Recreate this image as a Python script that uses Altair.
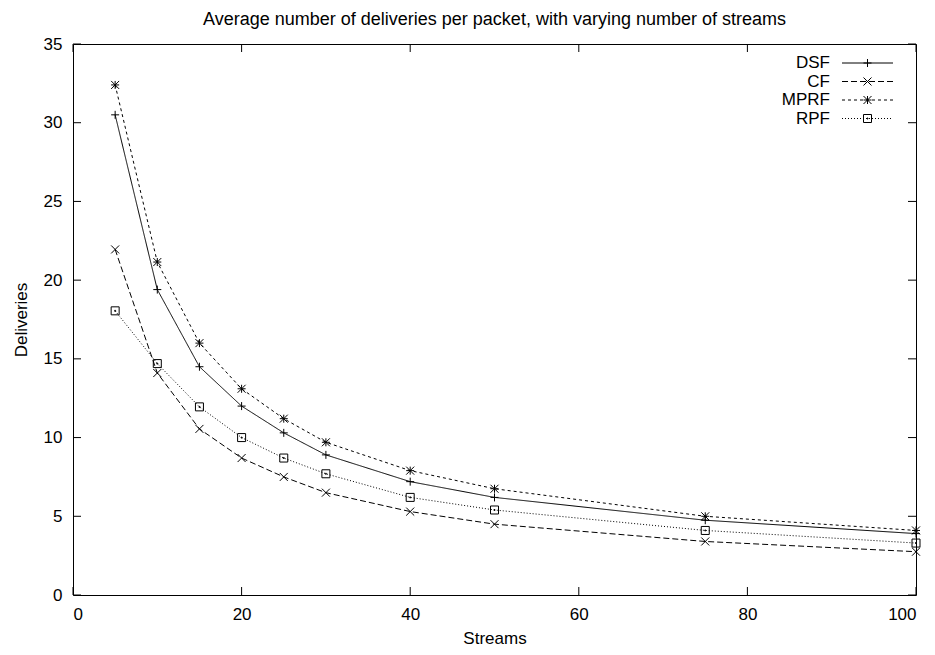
import altair as alt
import pandas as pd

# ---- data ----
streams = [5, 10, 15, 20, 25, 30, 40, 50, 75, 100]
dsf = [30.5, 19.4, 14.5, 12.0, 10.3, 8.9, 7.2, 6.2, 4.75, 3.9]
cf = [21.95, 14.1, 10.55, 8.7, 7.5, 6.5, 5.3, 4.5, 3.4, 2.75]
mprf = [32.4, 21.15, 16.0, 13.1, 11.2, 9.7, 7.9, 6.75, 5.0, 4.1]
rpf = [18.05, 14.7, 11.95, 10.0, 8.7, 7.7, 6.2, 5.4, 4.1, 3.3]

series_names = ["DSF", "CF", "MPRF", "RPF"]
series_values = [dsf, cf, mprf, rpf]
x_ticks = [0, 20, 40, 60, 80, 100]
y_ticks = [0, 5, 10, 15, 20, 25, 30, 35]

TITLE = "Average number of deliveries per packet, with varying number of streams"
FONT = "Liberation Sans"
FS = 17

# styles
dashes = [[1, 0], [6, 3], [3, 3], [1, 2]]
plus = "M-1,0H1M0,-1V1"
xmark = "M-1,-1L1,1M-1,1L1,-1"
star = "M-1,0H1M0,-1V1M-1,-1L1,1M-1,1L1,-1"
box = "M-1,-1H1V1H-1ZM-0.12,-0.12H0.12V0.12H-0.12Z"
shapes = [plus, xmark, star, box]

W, H = 843, 551

rows = []
for name, vals in zip(series_names, series_values):
    for s, v in zip(streams, vals):
        rows.append({"series": name, "Streams": s, "Deliveries": v})
df = pd.DataFrame(rows)

xscale = alt.Scale(domain=[0, 100], nice=False, zero=False)
yscale = alt.Scale(domain=[0, 35], nice=False, zero=False)

X = alt.X("Streams:Q", scale=xscale,
          axis=alt.Axis(values=x_ticks, title="Streams", titlePadding=8,
                        labelPadding=11, ticks=False, domain=False, grid=False))
Y = alt.Y("Deliveries:Q", scale=yscale,
          axis=alt.Axis(values=y_ticks, title="Deliveries", titlePadding=13,
                        labelPadding=11, ticks=False, domain=False, grid=False))

lines = alt.Chart(df).mark_line(color="black", strokeWidth=1).encode(
    x=X, y=Y,
    strokeDash=alt.StrokeDash("series:N", scale=alt.Scale(domain=series_names, range=dashes), legend=None),
    detail="series:N",
)
points = alt.Chart(df).mark_point(filled=False, color="black", strokeWidth=1, size=64, opacity=1).encode(
    x=X, y=Y,
    shape=alt.Shape("series:N", scale=alt.Scale(domain=series_names, range=shapes), legend=None),
)

ytdf = pd.DataFrame({"Deliveries": y_ticks})
xtdf = pd.DataFrame({"Streams": x_ticks})
TL = 8
yt_left = alt.Chart(ytdf).mark_rule(color="black", strokeWidth=1).encode(
    y=alt.Y("Deliveries:Q", scale=yscale), x=alt.value(0), x2=alt.value(TL))
yt_right = alt.Chart(ytdf).mark_rule(color="black", strokeWidth=1).encode(
    y=alt.Y("Deliveries:Q", scale=yscale), x=alt.value(W - TL), x2=alt.value(W))
xt_bot = alt.Chart(xtdf).mark_rule(color="black", strokeWidth=1).encode(
    x=alt.X("Streams:Q", scale=xscale), y=alt.value(H - TL), y2=alt.value(H))
xt_top = alt.Chart(xtdf).mark_rule(color="black", strokeWidth=1).encode(
    x=alt.X("Streams:Q", scale=xscale), y=alt.value(0), y2=alt.value(TL))

# chart title as a text mark (centered over the plot)
title_layer = alt.Chart(pd.DataFrame({"t": [TITLE]})).mark_text(
    align="center", baseline="alphabetic", font=FONT, fontSize=18, color="black").encode(
    x=alt.value(W / 2), y=alt.value(-19), text="t:N")

# manual gnuplot-style key
key_layers = []
key_text_x = 757
key_line_x1, key_line_x2 = 769, 820
key_row0, key_step = 19, 18.5
for i, name in enumerate(series_names):
    ry = key_row0 + i * key_step
    one = pd.DataFrame({"label": [name]})
    key_layers.append(alt.Chart(one).mark_text(align="right", baseline="middle", font=FONT,
                                               fontSize=FS, color="black").encode(
        x=alt.value(key_text_x), y=alt.value(ry), text="label:N"))
    key_layers.append(alt.Chart(one).mark_rule(color="black", strokeWidth=1, strokeDash=dashes[i]).encode(
        x=alt.value(key_line_x1), x2=alt.value(key_line_x2), y=alt.value(ry)))
    key_layers.append(alt.Chart(one).mark_point(shape=shapes[i], size=64, filled=False, color="black",
                                                strokeWidth=1, opacity=1).encode(
        x=alt.value((key_line_x1 + key_line_x2) / 2), y=alt.value(ry)))

chart = alt.layer(lines, points, yt_left, yt_right, xt_bot, xt_top, title_layer, *key_layers).properties(
    width=W, height=H,
    autosize=alt.AutoSizeParams(type="none"),
    padding={"left": 73, "top": 44, "right": 19, "bottom": 60},
    background="white",
).configure_view(stroke="black", strokeWidth=1).configure_axis(
    labelFont=FONT, labelFontSize=FS, labelColor="black",
    titleFont=FONT, titleFontSize=FS, titleColor="black", titleFontWeight="normal",
)

chart.save("out.html", embed_options={"renderer": "svg", "actions": False})
